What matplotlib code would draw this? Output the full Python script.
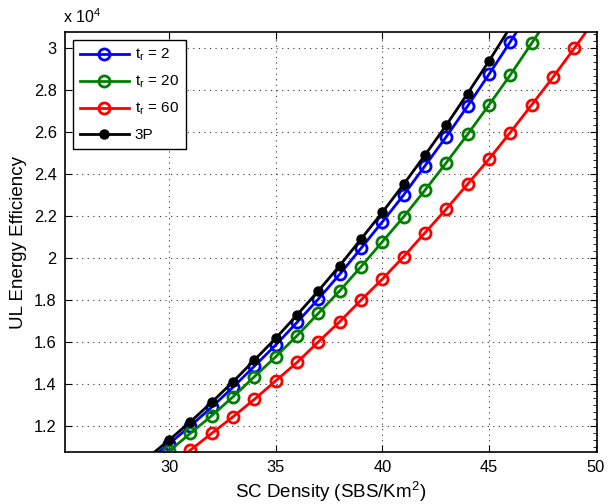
import matplotlib
matplotlib.use("Agg")
import matplotlib.pyplot as plt
from matplotlib.ticker import FuncFormatter, AutoMinorLocator, FixedLocator

plt.rcParams['font.family'] = ['Liberation Sans', 'DejaVu Sans']
plt.rcParams['mathtext.fontset'] = 'custom'
plt.rcParams['mathtext.rm'] = 'Liberation Sans'

# ---- data ----
x_3p = list(range(29, 47))
y_3p = [1.048, 1.132, 1.219, 1.312, 1.410, 1.513, 1.617, 1.728, 1.843, 1.963,
        2.090, 2.217, 2.351, 2.490, 2.633, 2.784, 2.938, 3.100]

x_t2 = list(range(29, 48))
y_t2 = [1.030, 1.114, 1.199, 1.289, 1.384, 1.484, 1.585, 1.693, 1.804, 1.922,
        2.046, 2.172, 2.300, 2.439, 2.578, 2.724, 2.875, 3.030, 3.190]

x_t20 = list(range(29, 49))
y_t20 = [1.000, 1.079, 1.164, 1.248, 1.338, 1.434, 1.529, 1.629, 1.736, 1.843,
         1.958, 2.077, 2.196, 2.323, 2.454, 2.589, 2.729, 2.872, 3.023, 3.175]

x_t60 = list(range(30, 51))
y_t60 = [1.005, 1.084, 1.164, 1.243, 1.326, 1.414, 1.502, 1.600, 1.696, 1.799,
         1.899, 2.006, 2.120, 2.233, 2.352, 2.471, 2.598, 2.729, 2.861, 2.999, 3.140]

scale = 1e4
y_3p = [v * scale for v in y_3p]
y_t2 = [v * scale for v in y_t2]
y_t20 = [v * scale for v in y_t20]
y_t60 = [v * scale for v in y_t60]

x_ticks = [30, 35, 40, 45, 50]
y_ticks = [1.2e4, 1.4e4, 1.6e4, 1.8e4, 2.0e4, 2.2e4, 2.4e4, 2.6e4, 2.8e4, 3.0e4]

labels = [r'$\mathregular{t_r}$ = 2', r'$\mathregular{t_r}$ = 20',
          r'$\mathregular{t_r}$ = 60', '3P']

# ---- figure ----
fig = plt.figure(figsize=(6.10, 5.04), dpi=100)
ax = fig.add_axes([65/610, 1 - 452/504, (597 - 65)/610, (452 - 32.3)/504])

lw = 2.0
ms = 8
mew = 2.0
l1, = ax.plot(x_t2, y_t2, '-o', color=(0, 0, 1), lw=lw, ms=ms, mew=mew, mfc='none')
l2, = ax.plot(x_t20, y_t20, '-o', color=(0, 0.5, 0), lw=lw, ms=ms, mew=mew, mfc='none')
l3, = ax.plot(x_t60, y_t60, '-o', color=(1, 0, 0), lw=lw, ms=ms, mew=mew, mfc='none')
l4, = ax.plot(x_3p, y_3p, '-o', color='black', lw=lw, ms=6.5, mew=1, mfc='black')

ax.set_xlim(25.12, 50.07)
ax.set_ylim(1.075e4, 3.076e4)
ax.xaxis.set_major_locator(FixedLocator(x_ticks))
ax.yaxis.set_major_locator(FixedLocator(y_ticks))
ax.yaxis.set_major_formatter(FuncFormatter(lambda v, p: f"{v/1e4:g}"))
ax.yaxis.set_minor_locator(AutoMinorLocator(6))

ax.tick_params(which='major', direction='in', length=5, width=0.8,
               top=True, right=True, labelsize=11.8, pad=6)
ax.tick_params(which='minor', direction='in', length=3, width=0.6,
               left=False, right=True, bottom=False, top=False)

ax.grid(True, which='major', linestyle=(0, (1, 4)), color='#333333', linewidth=0.8)
for s in ax.spines.values():
    s.set_linewidth(1.2)

ax.set_xlabel('SC Density (SBS/Km$^2$)', fontsize=13.5, labelpad=3)
ax.set_ylabel('UL Energy Efficiency', fontsize=13.5, labelpad=5)

fig.text(63/610, 1 - 17/504, r'x 10$^4$', fontsize=11.5, ha='left', va='center')

leg = ax.legend([l1, l2, l3, l4], labels, loc='upper left',
                bbox_to_anchor=(73/610, 1 - 40/504), bbox_transform=fig.transFigure,
                borderaxespad=0, fancybox=False, framealpha=1, edgecolor='black',
                fontsize=11, handlelength=3.2, labelspacing=0.7, handletextpad=0.4,
                borderpad=0.45)
leg.get_frame().set_linewidth(1.0)

fig.savefig('out.png', dpi=100)
